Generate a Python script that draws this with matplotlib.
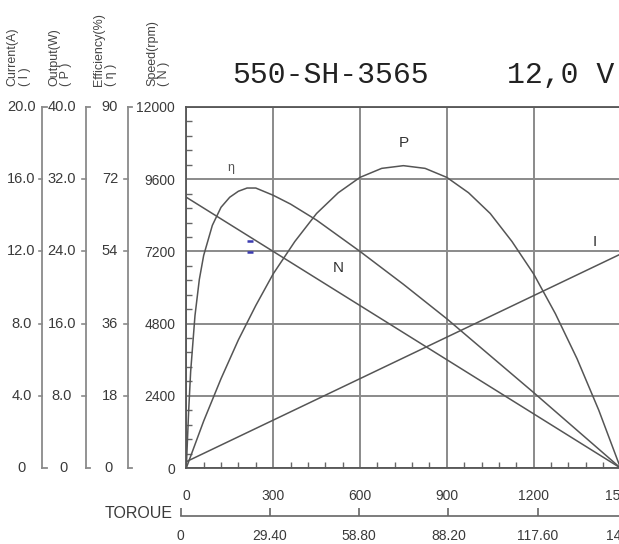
import matplotlib
matplotlib.use('Agg')
import matplotlib.pyplot as plt
import matplotlib.transforms as mtransforms
from matplotlib.ticker import MultipleLocator

# ---------------- data ----------------
torque_ticks = [0, 300, 600, 900, 1200, 1500]           # g.cm
torque_nm_ticks = [0, 29.4, 58.8, 88.2, 117.6, 147.0]
torque_nm_labels = ['0', '29.40', '58.80', '88.20', '117.60', '147.00']
speed_ticks = [0, 2400, 4800, 7200, 9600, 12000]

speed_T = [0, 300, 600, 900, 1200, 1500]
speed_N = [9000, 7200, 5400, 3600, 1800, 0]

current_T = [0, 300, 600, 900, 1200, 1500]
current_I = [0.35, 2.65, 4.95, 7.25, 9.55, 11.85]

power_T = [0, 60, 120, 180, 240, 300, 375, 450, 525, 600, 675, 750, 825, 900,
           975, 1050, 1125, 1200, 1275, 1350, 1425, 1500]
power_P = [0, 5.2, 9.9, 14.2, 18.0, 21.5, 25.1, 28.2, 30.5, 32.2, 33.2, 33.5,
           33.2, 32.2, 30.5, 28.2, 25.1, 21.5, 17.1, 12.1, 6.4, 0]

eff_T = [0, 8, 15, 30, 45, 60, 90, 120, 150, 180, 210, 240, 300, 360, 450,
         600, 750, 900, 1050, 1200, 1350, 1500]
eff_E = [0, 14, 24, 38, 47, 53, 60.5, 65, 67.5, 69, 69.8, 69.8, 68, 65.8,
         61.8, 54, 45.8, 37.2, 28, 18.8, 9.4, 0]

blue_T = [220, 220]
blue_N = [7560, 7180]

current_ticks = [0, 4.0, 8.0, 12.0, 16.0, 20.0]
current_labels = ['0', '4.0', '8.0', '12.0', '16.0', '20.0']
output_ticks = [0, 8.0, 16.0, 24.0, 32.0, 40.0]
output_labels = ['0', '8.0', '16.0', '24.0', '32.0', '40.0']
eff_ticks = [0, 18, 36, 54, 72, 90]
eff_labels = ['0', '18', '36', '54', '72', '90']

# ---------------- figure ----------------
W, H = 619, 544
plt.rcParams['font.family'] = ['Liberation Sans', 'DejaVu Sans']
fig = plt.figure(figsize=(W / 100, H / 100), dpi=100)
fig.patch.set_facecolor('white')


def fx(px):
    return px / W


def fy(py):
    return 1 - py / H


TXT = '#3a3a3a'
LINE = '#555555'
GRID = '#8a8a8a'

ax = fig.add_axes([fx(186.3), fy(468), (620.5 - 186.3) / W, 361 / H])
ax.set_xlim(0, 1500)
ax.set_ylim(0, 12000)
ax.set_xticks(torque_ticks)
ax.set_yticks(speed_ticks)
ax.set_xticklabels([str(t) for t in torque_ticks])
ax.set_yticklabels([str(s) for s in speed_ticks])
ax.grid(True, which='major', color=GRID, lw=1.4)
ax.xaxis.set_minor_locator(MultipleLocator(60))
ax.yaxis.set_minor_locator(MultipleLocator(480))
ax.tick_params(which='major', length=0, labelcolor=TXT)
ax.tick_params(axis='x', which='major', pad=15, labelsize=10)
ax.tick_params(axis='y', which='major', pad=8, labelsize=10)
ax.tick_params(which='minor', direction='in', length=4, width=1, color='#666666')
for s in ['left', 'top', 'bottom']:
    ax.spines[s].set_color('#555555')
    ax.spines[s].set_linewidth(1.3)
ax.spines['right'].set_visible(False)

# curves
ax.plot(speed_T, speed_N, color=LINE, lw=1.1)
ax.plot(current_T, [v * 12000 / 20 for v in current_I], color=LINE, lw=1.1)
ax.plot(power_T, [v * 12000 / 40 for v in power_P], color=LINE, lw=1.1)
ax.plot(eff_T, [v * 12000 / 90 for v in eff_E], color=LINE, lw=1.1)
ax.plot(blue_T, blue_N, ls='none', marker='_', ms=4.5, mew=1.8, color='#3b3bb0')

ax.text(155, 9970, 'η', fontsize=9, color='#555555', ha='center', va='center')
ax.text(750, 10800, 'P', fontsize=11, color='#333333', ha='center', va='center')
ax.text(525, 6650, 'N', fontsize=11, color='#333333', ha='center', va='center')
ax.text(1411, 7510, 'I', fontsize=11, color='#333333', ha='center', va='center')

# left bracket scales
bt = mtransforms.blended_transform_factory(fig.transFigure, ax.transData)


def bracket(xpx, ticks, tmax, labels, lab_x, zero_x):
    x = fx(xpx)
    d = 4 / W
    ax.plot([x, x], [0, 12000], transform=bt, color='#8a8a8a', lw=1.3, clip_on=False)
    ax.plot([x, x + d], [12000, 12000], transform=bt, color='#8a8a8a', lw=1.3, clip_on=False)
    ax.plot([x, x + d], [0, 0], transform=bt, color='#8a8a8a', lw=1.3, clip_on=False)
    for t, lab in zip(ticks, labels):
        yv = t * 12000 / tmax
        if 0 < t < tmax:
            ax.plot([x - d, x], [yv, yv], transform=bt, color='#8a8a8a', lw=1.2, clip_on=False)
        xx = zero_x if t == 0 else lab_x
        ax.text(fx(xx), yv, lab, transform=bt, ha='center', va='center',
                fontsize=10.5, color=TXT, clip_on=False)


bracket(42.5, current_ticks, 20.0, current_labels, 21.5, 21)
bracket(86, output_ticks, 40.0, output_labels, 62, 64)
bracket(127.5, eff_ticks, 90, eff_labels, 110, 108)

# headers (two rotated lines each)
hdr = dict(rotation=90, ha='center', va='bottom', fontsize=9, color='#444444')
headers = [(12, 'Current(A)', 24.5, '( I )'),
           (54, 'Output(W)', 66.5, '( P )'),
           (99, 'Efficiency(%)', 111.5, '( η )'),
           (152, 'Speed(rpm)', 164.5, '( N )')]
for x1, t1, x2, t2 in headers:
    fig.text(fx(x1), fy(86), t1, **hdr)
    fig.text(fx(x2), fy(86), t2, **hdr)

# title
fig.text(fx(232), fy(83), '550-SH-3565', family='Liberation Mono', fontsize=21.5,
         va='baseline', ha='left', color='#222222')
fig.text(fx(507), fy(83), '12,0 V', family='Liberation Mono', fontsize=21.5,
         va='baseline', ha='left', color='#222222')

# torque (mN.m) secondary scale
ax2 = fig.add_axes([fx(180.5), fy(516), 446.5 / W, 0.02])
ax2.set_xlim(0, 147)
ax2.set_ylim(0, 1)
ax2.patch.set_visible(False)
for s in ['left', 'top', 'right']:
    ax2.spines[s].set_visible(False)
ax2.spines['bottom'].set_color('#666666')
ax2.spines['bottom'].set_linewidth(1.2)
ax2.set_yticks([])
ax2.set_xticks(torque_nm_ticks)
ax2.set_xticklabels(torque_nm_labels)
ax2.tick_params(axis='x', direction='in', length=6, width=1.2, color='#666666',
                pad=9, labelsize=10, labelcolor=TXT)

fig.text(fx(173), fy(513), 'TOROUE', ha='right', va='center', fontsize=11.5, color=TXT)

fig.savefig('out.png', dpi=100, facecolor='white')
